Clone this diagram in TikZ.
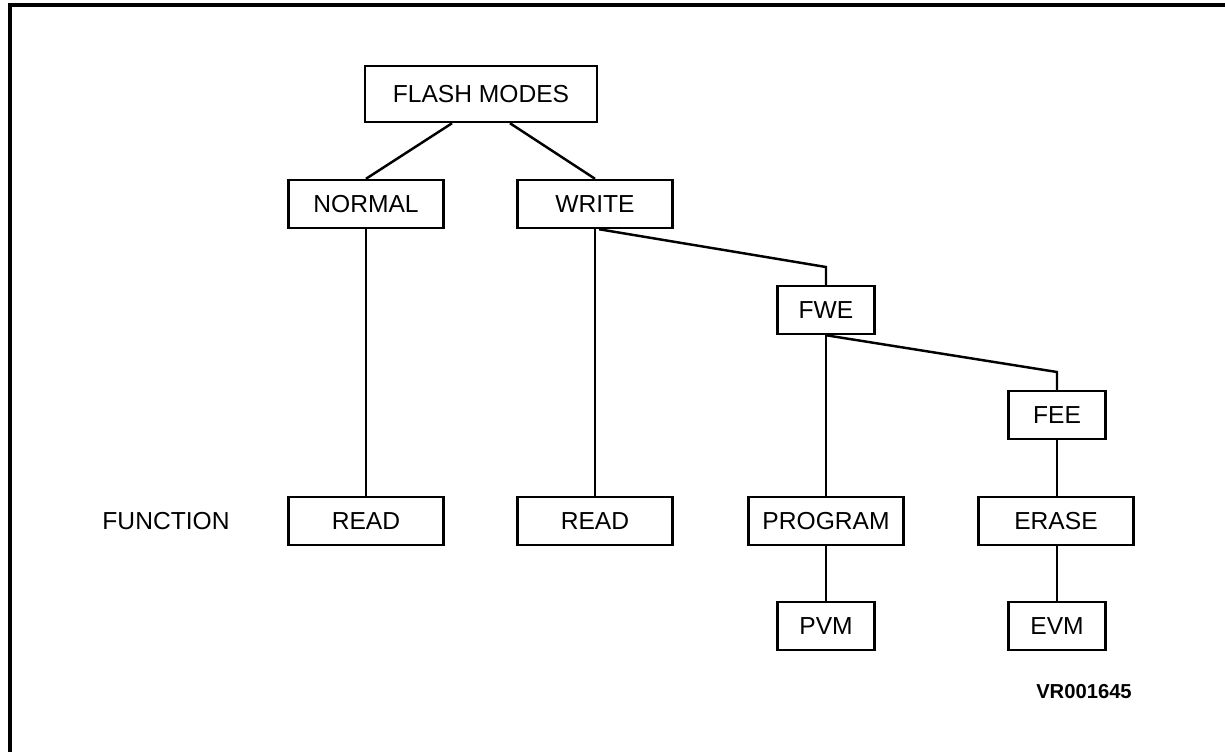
\documentclass[tikz,border=0pt]{standalone}
\usepackage{fontspec}
\setmainfont{Liberation Sans}
\begin{document}
\begin{tikzpicture}[x=0.02cm,y=-0.02cm]
	\tikzset{every node/.style={font=\fontsize{14}{16}\selectfont, inner sep=0pt}}
	\tikzset{modebox/.style={draw, line width=1.4pt, minimum width=3.1cm, minimum height=0.96cm}}
	\tikzset{smallbox/.style={modebox, minimum width=1.94cm}}
	\tikzset{link/.style={line width=1.4pt}}
	\useasboundingbox (0,0) rectangle (1225,752);
	% frame
	\draw [line width=2pt] (1225,5) -- (10,5) -- (10,752);
	% tree
	\node [modebox, minimum width=4.64cm, minimum height=1.12cm] (flash) at (481,94) {FLASH MODES};
	\node [modebox] (normal) at (366,204) {NORMAL};
	\node [modebox] (write) at (595,204) {WRITE};
	\node [smallbox] (fwe) at (826,310) {FWE};
	\node [smallbox] (fee) at (1057,415) {FEE};
	\node (function) at (166,521) {FUNCTION};
	\node [modebox] (readn) at (366,521) {READ};
	\node [modebox] (readw) at (595,521) {READ};
	\node [modebox] (program) at (826,521) {PROGRAM};
	\node [modebox] (erase) at (1056,521) {ERASE};
	\node [smallbox] (pvm) at (826,626) {PVM};
	\node [smallbox] (evm) at (1057,626) {EVM};
	\node [font=\fontsize{11.5}{13}\selectfont\bfseries] (code) at (1084,692) {VR001645};
	\coordinate (fwebend) at (826,267);
	\coordinate (feebend) at (1057,372);
	\draw [link] ([xshift=-0.58cm]flash.south) -- (normal.north);
	\draw [link] ([xshift=0.58cm]flash.south) -- (write.north);
	\draw [link] (normal.south) -- (readn.north);
	\draw [link] (write.south) -- (readw.north);
	\draw [link] ([xshift=0.08cm]write.south) -- (fwebend) -- (fwe.north);
	\draw [link] (fwe.south) -- (program.north);
	\draw [link] (fwe.south) -- (feebend) -- (fee.north);
	\draw [link] (fee.south) -- (erase.north -| fee.south);
	\draw [link] (program.south) -- (pvm.north);
	\draw [link] (erase.south -| evm.north) -- (evm.north);
\end{tikzpicture}
\end{document}
